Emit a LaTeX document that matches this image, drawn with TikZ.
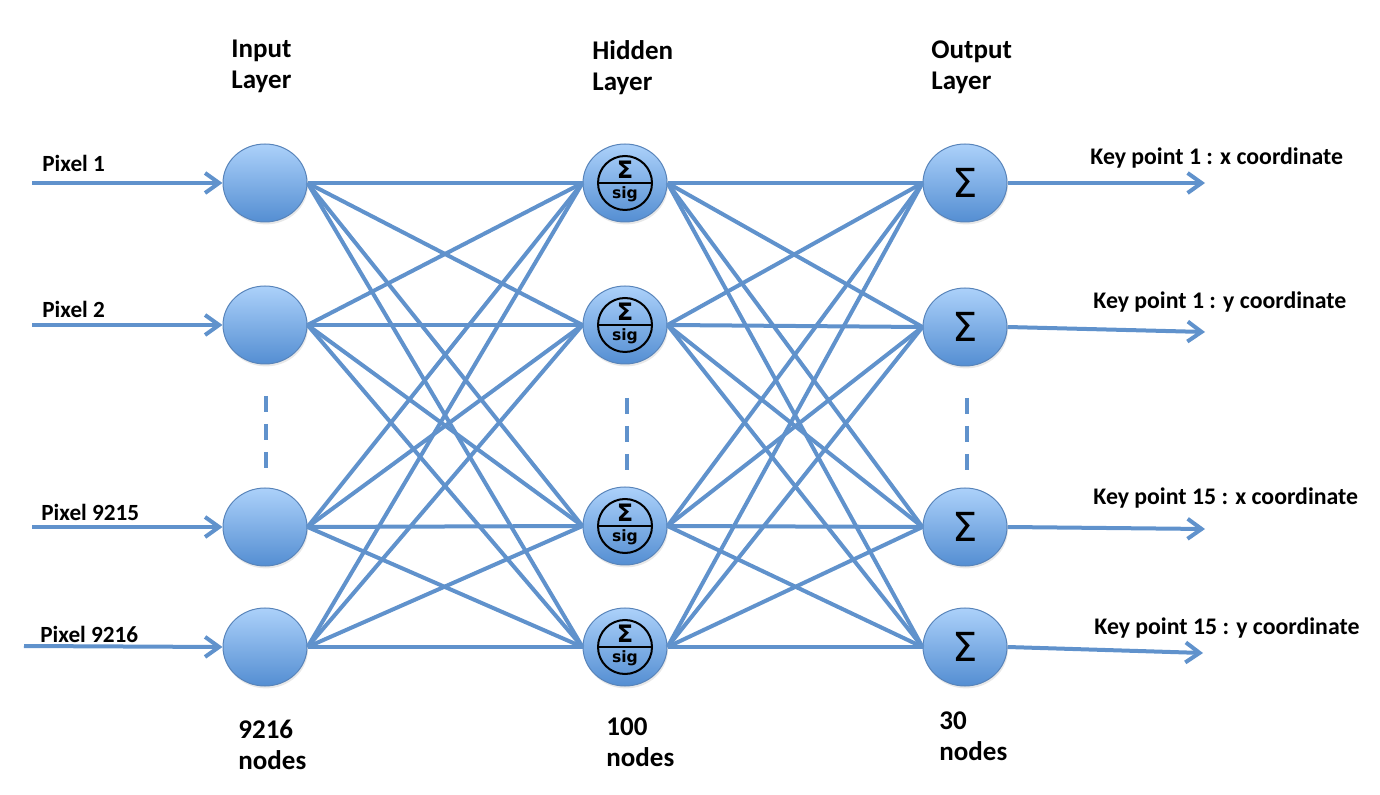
\documentclass[tikz,border=0pt]{standalone}
\usepackage{fontspec}
\setmainfont{Carlito}
\newfontfamily\symfont{DejaVu Sans}
\usetikzlibrary{shapes.geometric,arrows.meta,shadows}
\definecolor{netblue}{RGB}{96,146,204}
\definecolor{celltop}{RGB}{172,209,250}
\definecolor{cellbot}{RGB}{84,142,210}
\definecolor{celledge}{RGB}{88,132,186}
\tikzset{
	cell/.style={ellipse, draw=celledge, line width=0.5pt, top color=celltop, bottom color=cellbot,
		minimum width=42pt, minimum height=39pt, inner sep=0pt,
		drop shadow={opacity=0.18, shadow xshift=0.5pt, shadow yshift=-1.2pt}},
	sumcell/.style={cell, font=\symfont\fontsize{20}{20}\selectfont},
	sigcell/.style={cell, path picture={
		\coordinate (hc) at (path picture bounding box.center);
		\draw[black, line width=1pt] (hc) circle (13.5pt);
		\draw[black, line width=1pt] ([xshift=-13.5pt]hc) -- ([xshift=13.5pt]hc);
		\node[font=\symfont\bfseries\fontsize{12}{12}\selectfont, inner sep=0pt] at ([yshift=6.8pt]hc) {Σ};
		\node[font=\symfont\bfseries\fontsize{7.8}{7.8}\selectfont, inner sep=0pt] at ([yshift=-5.5pt]hc) {sig};
	}},
	link/.style={draw=netblue, line width=2pt},
	feed/.style={link, -{Straight Barb[length=7pt,width=10pt]}},
	gapline/.style={draw=netblue, line width=2pt, dash pattern=on 8pt off 6pt},
	pixlbl/.style={anchor=base west, inner sep=0pt, font=\bfseries\fontsize{11.6}{14}\selectfont},
	keylbl/.style={anchor=base west, inner sep=0pt, font=\bfseries\fontsize{11.9}{14}\selectfont},
	ttl/.style={anchor=west, align=left, inner sep=0pt, font=\bfseries\fontsize{13.5}{15.5}\selectfont}
}
\begin{document}
\begin{tikzpicture}[x=50pt, y=50pt]
	\useasboundingbox (0,0) rectangle (13.8,-7.95);
	% layer titles
	\node[ttl] (tin) at (2.31,-0.665) {Input\\Layer};
	\node[ttl] (thid) at (5.92,-0.675) {Hidden\\Layer};
	\node[ttl] (tout) at (9.31,-0.675) {Output\\Layer};
	% neurons
	\node[cell] (in1) at (2.65,-1.83) {};
	\node[cell] (in2) at (2.65,-3.25) {};
	\node[cell] (in3) at (2.65,-5.27) {};
	\node[cell] (in4) at (2.65,-6.47) {};
	\node[sigcell] (hid1) at (6.25,-1.83) {};
	\node[sigcell] (hid2) at (6.25,-3.25) {};
	\node[sigcell] (hid3) at (6.25,-5.26) {};
	\node[sigcell] (hid4) at (6.25,-6.47) {};
	\node[sumcell] (out1) at (9.65,-1.83) {Σ};
	\node[sumcell] (out2) at (9.65,-3.27) {Σ};
	\node[sumcell] (out3) at (9.65,-5.27) {Σ};
	\node[sumcell] (out4) at (9.65,-6.47) {Σ};
	\foreach \i in {1,...,4}
		\foreach \j in {1,...,4} {
			\draw[link] (in\i.east) -- (hid\j.west);
			\draw[link] (hid\i.east) -- (out\j.west);
		}
	% inputs
	\coordinate (src1) at (0.32,-1.83);
	\coordinate (src2) at (0.32,-3.25);
	\coordinate (src3) at (0.32,-5.27);
	\coordinate (src4) at (0.24,-6.46);
	\foreach \i in {1,...,4}
		\draw[feed] (src\i) -- (in\i.west);
	\node[pixlbl] (px1) at (0.42,-1.72) {Pixel 1};
	\node[pixlbl] (px2) at (0.42,-3.18) {Pixel 2};
	\node[pixlbl] (px3) at (0.41,-5.21) {Pixel 9215};
	\node[pixlbl] (px4) at (0.40,-6.42) {Pixel 9216};
	% outputs
	\coordinate (dst1) at (12.05,-1.83);
	\coordinate (dst2) at (12.05,-3.32);
	\coordinate (dst3) at (12.05,-5.29);
	\coordinate (dst4) at (12.03,-6.53);
	\foreach \i in {1,...,4}
		\draw[feed] (out\i.east) -- (dst\i);
	\node[keylbl] (kp1) at (10.90,-1.65) {Key point 1 : x coordinate};
	\node[keylbl] (kp2) at (10.93,-3.09) {Key point 1 : y coordinate};
	\node[keylbl] (kp3) at (10.93,-5.05) {Key point 15 : x coordinate};
	\node[keylbl] (kp4) at (10.94,-6.34) {Key point 15 : y coordinate};
	% skipped neurons
	\draw[gapline] (2.66,-3.96) -- (2.66,-4.68);
	\draw[gapline] (6.27,-3.98) -- (6.27,-4.70);
	\draw[gapline] (9.67,-3.98) -- (9.67,-4.70);
	% layer sizes
	\node[ttl] (nin) at (2.38,-7.445) {9216\\nodes};
	\node[ttl] (nhid) at (6.06,-7.425) {100\\nodes};
	\node[ttl] (nout) at (9.39,-7.365) {30\\nodes};
\end{tikzpicture}
\end{document}
